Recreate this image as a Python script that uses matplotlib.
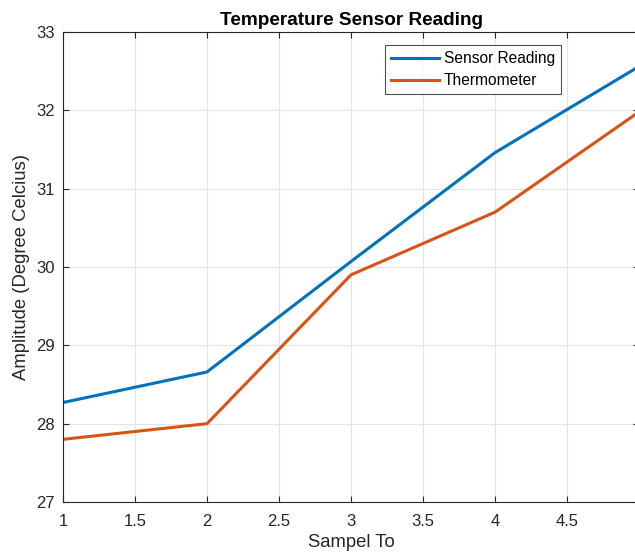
import matplotlib
matplotlib.use("Agg")
import matplotlib.pyplot as plt

samples = [1, 2, 3, 4, 5]
sensor_reading = [28.27, 28.66, 30.07, 31.46, 32.56]
thermometer = [27.80, 28.00, 29.90, 30.70, 31.98]
x_ticks = [1, 1.5, 2, 2.5, 3, 3.5, 4, 4.5, 5]
y_ticks = [27, 28, 29, 30, 31, 32, 33]

plt.rcParams["font.family"] = ["Liberation Sans", "DejaVu Sans"]

fig = plt.figure(figsize=(6.35, 5.58), dpi=100)
ax = fig.add_axes([63 / 635, 1 - 502 / 558, 576 / 635, 470 / 558])

ax.plot(samples, sensor_reading, color="#0072BD", linewidth=2.2, label="Sensor Reading")
ax.plot(samples, thermometer, color="#D95319", linewidth=2.2, label="Thermometer")

ax.set_xlim(1, 5)
ax.set_ylim(27, 33)
ax.set_xticks(x_ticks)
ax.set_xticklabels(["1", "1.5", "2", "2.5", "3", "3.5", "4", "4.5", "5"])
ax.set_yticks(y_ticks)
ax.grid(True, color="#e3e3e3", linewidth=0.8)
ax.set_axisbelow(True)
ax.tick_params(direction="in", top=True, right=True, labelsize=12, colors="#262626", length=4)
ax.tick_params(axis="x", pad=9)
ax.tick_params(axis="y", pad=6)
for s in ax.spines.values():
    s.set_color("#262626")
    s.set_linewidth(0.8)

ax.set_title("Temperature Sensor Reading", fontsize=13.7, fontweight="bold", pad=5)
ax.set_xlabel("Sampel To", fontsize=13.3, color="#262626", labelpad=3)
ax.set_ylabel("Amplitude (Degree Celcius)", fontsize=13.3, color="#262626", labelpad=4)

leg = ax.legend(loc="upper left", bbox_to_anchor=((385 - 63) / 576, (502 - 45) / 470), fontsize=11.2,
                frameon=True, fancybox=False, edgecolor="#262626", handlelength=3.1,
                borderpad=0.4, labelspacing=0.45, handletextpad=0.3, borderaxespad=0)
leg.get_frame().set_linewidth(0.8)

fig.savefig("out.png", dpi=100)
